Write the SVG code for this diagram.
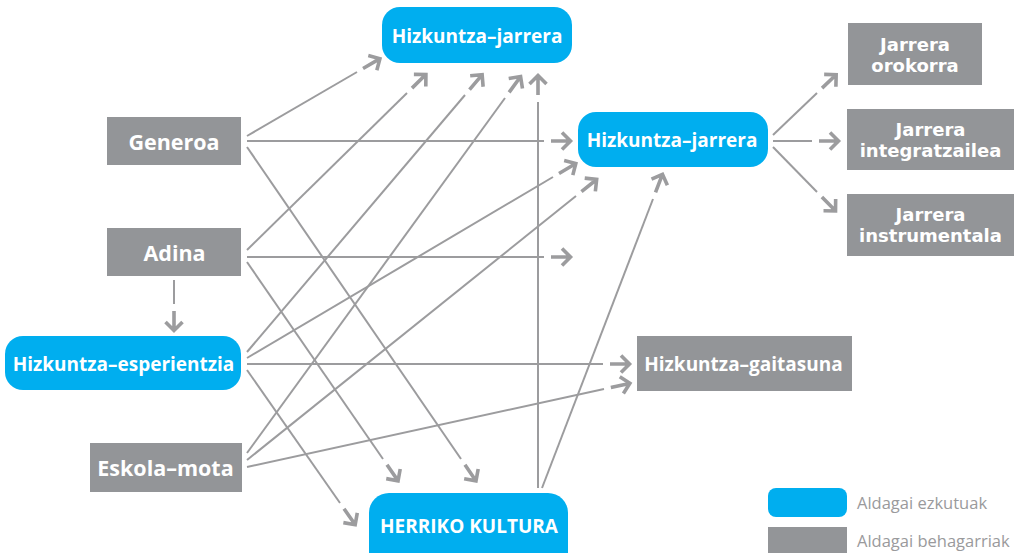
<svg xmlns="http://www.w3.org/2000/svg" width="1019" height="553" viewBox="0 0 1019 553">
<style>
.blue{fill:#00aeef}
.gray{fill:#939598}
.lb{font-family:"Open Sans","Liberation Sans",sans-serif;font-weight:700;fill:#ffffff;text-anchor:middle}
.two{font-family:"DejaVu Sans","Liberation Sans",sans-serif;font-weight:700;font-size:18px;fill:#ffffff;text-anchor:middle}
.s19{font-size:19px}
.s21{font-size:21.5px}
.leg{font-family:"Open Sans","Liberation Sans",sans-serif;font-size:16.5px;fill:#9a9a9c}
.c line{stroke:#9c9c9e;stroke-width:2;fill:none;marker-end:url(#ar)}
</style>
<defs>
<marker id="ar" markerUnits="userSpaceOnUse" orient="auto" refX="0" refY="0" markerWidth="40" markerHeight="40" viewBox="-20 -20 40 40" overflow="visible">
<path d="M7,0 H26 M18,-8.5 L26.5,0 L18,8.5" fill="none" stroke="#9c9c9e" stroke-width="3.6"/>
</marker>
</defs>
<rect width="1019" height="553" fill="#ffffff"/>
<g class="c" id="connectors">
<line x1="247" y1="136" x2="357" y2="72"/>
<line x1="247" y1="141" x2="544" y2="141"/>
<line x1="247" y1="147" x2="461" y2="459"/>
<line x1="247" y1="250" x2="407" y2="93"/>
<line x1="247" y1="257" x2="544" y2="257"/>
<line x1="247" y1="262" x2="383" y2="459"/>
<line x1="174" y1="280" x2="174" y2="304"/>
<line x1="247" y1="352" x2="465" y2="95"/>
<line x1="247" y1="358" x2="553" y2="177"/>
<line x1="247" y1="364" x2="603" y2="364"/>
<line x1="247" y1="370" x2="340" y2="503"/>
<line x1="247" y1="453" x2="505" y2="98"/>
<line x1="247" y1="460" x2="576" y2="196"/>
<line x1="247" y1="467" x2="604" y2="389"/>
<line x1="538" y1="488" x2="538" y2="102"/>
<line x1="542" y1="488" x2="653" y2="199"/>
<line x1="773" y1="135" x2="817" y2="93"/>
<line x1="773" y1="141" x2="812" y2="141"/>
<line x1="773" y1="147" x2="817" y2="192"/>
</g>
<g id="n-generoa"><rect class="gray" x="107" y="117" width="134" height="48"/><text class="lb s21" x="174" y="149.5">Generoa</text></g>
<g id="n-adina"><rect class="gray" x="107" y="228" width="134" height="48"/><text class="lb s21" x="174.5" y="261">Adina</text></g>
<g id="n-esperientzia"><rect class="blue" x="5" y="336" width="236" height="54" rx="18"/><text class="lb s19" x="123.5" y="370.5">Hizkuntza–esperientzia</text></g>
<g id="n-eskola"><rect class="gray" x="90" y="443" width="152" height="49"/><text class="lb s21" x="165.5" y="476">Eskola–mota</text></g>
<g id="n-jarrera-top"><rect class="blue" x="382" y="7" width="190" height="56" rx="18"/><text class="lb s19" x="477" y="43">Hizkuntza–jarrera</text></g>
<g id="n-jarrera-mid"><rect class="blue" x="578" y="112" width="190" height="55" rx="18"/><text class="lb s19" x="672" y="147">Hizkuntza–jarrera</text></g>
<g id="n-orokorra"><rect class="gray" x="848" y="23" width="134" height="62"/><text class="two" x="915" y="51"><tspan x="915">Jarrera</tspan><tspan x="915" dy="21">orokorra</tspan></text></g>
<g id="n-integratzailea"><rect class="gray" x="847" y="109" width="167" height="61"/><text class="two" x="930.5" y="136"><tspan x="930.5">Jarrera</tspan><tspan x="930.5" dy="21">integratzailea</tspan></text></g>
<g id="n-instrumentala"><rect class="gray" x="847" y="194" width="167" height="62"/><text class="two" x="930.5" y="221"><tspan x="930.5">Jarrera</tspan><tspan x="930.5" dy="21">instrumentala</tspan></text></g>
<g id="n-gaitasuna"><rect class="gray" x="637" y="336" width="215" height="55"/><text class="lb s19" x="743.5" y="370.5">Hizkuntza–gaitasuna</text></g>
<g id="n-herriko"><rect class="blue" x="369" y="493" width="199" height="80" rx="20"/><text class="lb s19" x="469" y="533">HERRIKO KULTURA</text></g>
<g id="legend">
<rect class="blue" x="768" y="488" width="79" height="29" rx="8"/>
<text class="leg" x="857" y="509">Aldagai ezkutuak</text>
<rect class="gray" x="768" y="527" width="79" height="30"/>
<text class="leg" x="857" y="547">Aldagai behagarriak</text>
</g>
</svg>
